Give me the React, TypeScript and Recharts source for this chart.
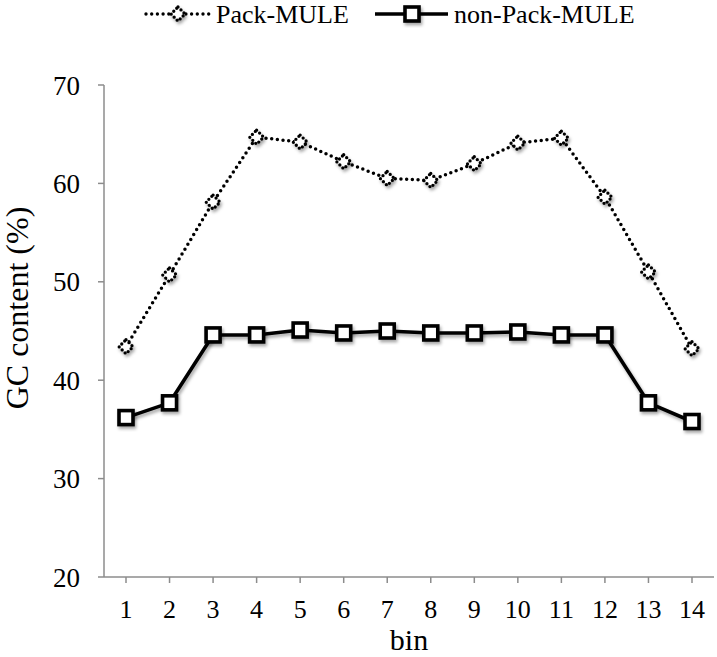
import { LineChart, Line, XAxis, YAxis, Legend } from 'recharts'

const bins = ['1', '2', '3', '4', '5', '6', '7', '8', '9', '10', '11', '12', '13', '14']
const packMule = [43.4, 50.7, 58.1, 64.7, 64.2, 62.2, 60.5, 60.3, 62.0, 64.1, 64.6, 58.6, 51.0, 43.2]
const nonPackMule = [36.2, 37.7, 44.6, 44.6, 45.1, 44.8, 45.0, 44.8, 44.8, 44.9, 44.6, 44.6, 37.7, 35.8]
const yTicks = [20, 30, 40, 50, 60, 70]

const data = bins.map((bin, i) => ({ bin, pack: packMule[i], nonPack: nonPackMule[i] }))

const FONT = '"Liberation Serif", "Times New Roman", serif'
const AXIS = '#8c8c8c'

function Diamond({ cx, cy }: any) {
  if (cx == null || cy == null) return null
  const r = 7
  return (
    <polygon
      points={`${cx},${cy - r} ${cx + r},${cy} ${cx},${cy + r} ${cx - r},${cy}`}
      fill="#fff"
      stroke="#000"
      strokeWidth={3.3}
      strokeDasharray="0 4.2"
      strokeLinecap="round"
      filter="url(#shade)"
    />
  )
}

function Square({ cx, cy }: any) {
  if (cx == null || cy == null) return null
  const r = 7
  return (
    <rect x={cx - r} y={cy - r} width={r * 2} height={r * 2}
      fill="#fff" stroke="#000" strokeWidth={3.6} filter="url(#shade)" />
  )
}

function TopLegend() {
  return (
    <div style={{ position: 'relative', height: 30 }}>
      <svg width={717} height={30} style={{ position: 'absolute', left: 0, top: 0 }}>
        <line x1={146} y1={14} x2={210} y2={14} stroke="#000" strokeWidth={3.4}
          strokeDasharray="0 5.7" strokeLinecap="round" />
        <Diamond cx={178} cy={14} />
        <line x1={375} y1={14} x2={448} y2={14} stroke="#000" strokeWidth={3.6} />
        <Square cx={412} cy={14} />
        <text x={216} y={23} fontFamily={FONT} fontSize={26}>Pack-MULE</text>
        <text x={454} y={23} fontFamily={FONT} fontSize={26}>non-Pack-MULE</text>
      </svg>
    </div>
  )
}

function YLabel({ viewBox }: any) {
  const x = 28
  const y = viewBox.y + viewBox.height / 2 - 23
  return (
    <text x={x} y={y} transform={`rotate(-90, ${x}, ${y})`} textAnchor="middle"
      fontFamily={FONT} fontSize={32} fill="#000">
      GC content (%)
    </text>
  )
}

export default function App() {
  return (
    <div style={{ position: 'absolute', left: 0, top: 0, width: 717, height: 657, background: '#fff' }}>
      <svg width={0} height={0} style={{ position: 'absolute' }}>
        <defs>
          <filter id="shade" x="-50%" y="-50%" width="200%" height="200%">
            <feDropShadow dx={1.5} dy={2.5} stdDeviation={1.6} floodColor="#000" floodOpacity={0.35} />
          </filter>
        </defs>
      </svg>
      <LineChart width={717} height={657} data={data}
        margin={{ top: 55, right: 3, bottom: 0, left: 0 }}>
        <Legend verticalAlign="top" height={30} content={<TopLegend />}
          wrapperStyle={{ top: 0, left: 0, width: 717 }} />
        <XAxis dataKey="bin" height={80} stroke={AXIS} strokeWidth={1.5}
          padding={{ left: 22, right: 22 }}
          tickSize={6} tickLine={{ stroke: AXIS, strokeWidth: 1.5 }} interval={0}
          tick={{ fill: '#000', fontSize: 26, fontFamily: FONT, dy: 15 }}
          label={{ value: 'bin', position: 'insideBottom', offset: 7, fill: '#000', fontSize: 30, fontFamily: FONT }} />
        <YAxis domain={[20, 70]} ticks={yTicks} width={104} stroke={AXIS} strokeWidth={1.5}
          tickSize={6} tickLine={{ stroke: AXIS, strokeWidth: 1.5 }} interval={0}
          tick={{ fill: '#000', fontSize: 27, fontFamily: FONT, dx: -16 }}
          label={<YLabel />} />
        <Line dataKey="pack" name="Pack-MULE" stroke="#000" strokeWidth={3.5}
          strokeDasharray="0 5.7" strokeLinecap="round" dot={<Diamond />} activeDot={false}
          isAnimationActive={false} />
        <Line dataKey="nonPack" name="non-Pack-MULE" stroke="#000" strokeWidth={3.6}
          dot={<Square />} activeDot={false} filter="url(#shade)" isAnimationActive={false} />
      </LineChart>
    </div>
  )
}
